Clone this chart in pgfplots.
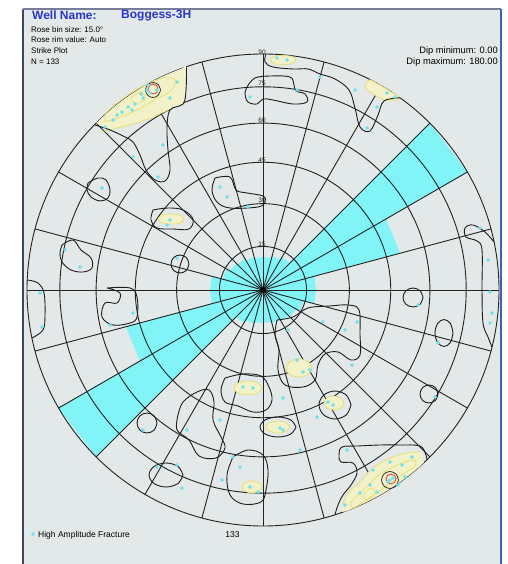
\documentclass[border=0pt]{standalone}
\usepackage{pgfplots}
\pgfplotsset{compat=1.18}
\usepackage{fontspec}
\setmainfont{Liberation Sans}
\definecolor{panel}{RGB}{227,232,232}
\definecolor{rose}{RGB}{128,244,247}
\definecolor{gridc}{RGB}{35,35,35}
\definecolor{cont}{RGB}{30,30,30}
\definecolor{pyel}{RGB}{243,241,200}
\definecolor{yel}{RGB}{232,222,105}
\definecolor{redc}{RGB}{225,70,90}
\definecolor{dotc}{RGB}{105,228,240}
\definecolor{titleblue}{RGB}{38,52,215}
\definecolor{frameL}{RGB}{60,70,105}
\definecolor{frameR}{RGB}{62,98,185}
\definecolor{labc}{RGB}{40,40,40}
\newcommand{\fs}[1]{\fontsize{#1bp}{#1bp}\selectfont}
\begin{document}
\begin{tikzpicture}
\begin{axis}[x=1bp, y=1bp, xmin=-263, xmax=245, ymin=-274, ymax=290,
  hide axis, scale only axis, clip=true,
  cline/.style={draw=cont, line width=0.9bp, smooth, tension=0.6},
  yfill/.style={fill=pyel, draw=yel, line width=0.7bp, smooth, tension=0.6},
  yline/.style={draw=yel, line width=0.7bp, smooth, tension=0.6},
  rline/.style={draw=redc, line width=0.9bp, smooth, tension=0.6}]
% background
\addplot[fill=white, draw=none] coordinates {(-263,-274) (245,-274) (245,290) (-263,290)} -- cycle;
\addplot[fill=panel, draw=none] coordinates {(-240,-274) (237.7,-274) (237.7,281) (-240,281)} -- cycle;
% rose diagram (bin size 15, strike)
\addplot[fill=rose, draw=none, data cs=polar] coordinates {
(0,0) (75,33) (90,33) (0,0) (60,35) (75,35) (0,0) (45,38) (60,38) (0,0) (30,236) (45,236)
(0,0) (15,142) (30,142) (0,0) (0,53) (15,53) (0,0) (-15,53) (0,53) (0,0) (-30,42) (-15,42)
(0,0) (-45,38) (-30,38) (0,0) (-60,36) (-45,36) (0,0) (-75,34) (-60,34) (0,0) (-90,33) (-75,33)
(0,0) (255,33) (270,33) (0,0) (240,35) (255,35) (0,0) (225,38) (240,38) (0,0) (210,236) (225,236)
(0,0) (195,142) (210,142) (0,0) (180,53) (195,53) (0,0) (165,53) (180,53) (0,0) (150,42) (165,42)
(0,0) (135,38) (150,38) (0,0) (120,36) (135,36) (0,0) (105,34) (120,34) (0,0) (90,33) (105,33) (0,0)} -- cycle;
% equal-area polar grid
\pgfplotsinvokeforeach{43.57,86.38,127.73,166.88,203.2,236}{
  \draw[gridc, line width=0.9bp] (axis cs:0,0) circle[radius=#1bp];
}
\pgfplotsinvokeforeach{0,15,...,345}{
  \draw[gridc, line width=0.9bp] (axis cs:0,0) -- ++(#1:236bp);
}
\fill[black] (axis cs:0,0) circle[radius=2.8bp];
% density fills (pale yellow)
\addplot[fill=pyel, draw=none, smooth, tension=0.5] coordinates {(-166.9,166.9) (-151.7,180.8) (-135.4,193.3) (-118.0,204.4) (-99.7,213.9) (-80.7,221.8) (-76.8,223.1) (-77,200) (-79,187) (-95,180) (-112,172) (-130,166) (-150,161) (-166.9,166.9)};
\addplot[fill=pyel, draw=none, smooth, tension=0.5] coordinates {(160.9,-172.6) (151.7,-180.8) (135.4,-193.3) (118.0,-204.4) (99.7,-213.9) (80.7,-221.8) (80,-215) (85,-203) (97,-192) (110,-178) (127,-168) (144,-163) (157,-162) (160.9,-172.6)};
\addplot[yfill] coordinates {(107.1,210.3) (118,204.4) (128.5,197.9) (137.0,192.1) (125,189) (112,195) (102,203) (107.1,210.3)};
\addplot[yfill] coordinates {(7,230) (11,233.5) (20,234.5) (29,233.5) (33,230) (29,226.5) (20,225.5) (11,226.5) (7,230)};
\addplot[yfill] coordinates {(-105,71) (-101,75) (-92,76) (-83,75) (-79,71) (-83,67) (-92,66) (-101,67) (-105,71)};
\addplot[yfill] coordinates {(49,-78) (45.2,-71.6) (36,-69) (26.8,-71.6) (23,-78) (26.8,-84.4) (36,-87) (45.2,-84.4) (49,-78)};
\addplot[yfill] coordinates {(-1,-98) (-5.1,-93.1) (-15,-91) (-24.9,-93.1) (-29,-98) (-24.9,-102.9) (-15,-105) (-5.1,-102.9) (-1,-98)};
\addplot[yfill] coordinates {(81,-113) (78.1,-108.1) (71,-106) (63.9,-108.1) (61,-113) (63.9,-117.9) (71,-120) (78.1,-117.9) (81,-113)};
\addplot[yfill] coordinates {(27,-137) (23.5,-132.8) (15,-131) (6.5,-132.8) (3,-137) (6.5,-141.2) (15,-143) (23.5,-141.2) (27,-137)};
\addplot[yfill] coordinates {(-1,-197) (-3.9,-192.8) (-11,-191) (-18.1,-192.8) (-21,-197) (-18.1,-201.2) (-11,-203) (-3.9,-201.2) (-1,-197)};
% yellow contour lines
\addplot[yline] coordinates {(-163,158) (-150,161) (-130,166) (-112,172) (-95,180)};
\addplot[yline] coordinates {(-158,168) (-140,174) (-122,182) (-105,192) (-92,199) (-88,210) (-100,212) (-118,205) (-138,193) (-156,178) (-158,168)};
\addplot[yline] coordinates {(-128,186) (-118,191) (-122,198) (-132,192) (-128,186)};
\addplot[yline] coordinates {(80,-215) (85,-203) (97,-192) (110,-178) (127,-168) (144,-163) (157,-162)};
\addplot[yline] coordinates {(88,-212) (100,-200) (115,-186) (132,-176) (150,-170) (152,-176) (140,-184) (122,-197) (103,-210) (90,-218) (88,-212)};
\addplot[yline] coordinates {(100,-205) (108,-198) (112,-203) (104,-210) (100,-205)};
% black density contours
\addplot[cline] coordinates {(-168,165) (-153,160) (-138,153) (-130,148) (-123,135) (-117,120) (-108,110) (-98,109) (-93,120) (-95,140) (-96,162) (-93,180) (-80,186) (-77,200) (-76.5,222.5)};
\addplot[cline] coordinates {(163.9,-169.8) (163,-165) (157,-156) (137,-155) (117,-155) (95,-156) (79,-157) (76,-165) (78,-172) (90,-173) (94,-183) (88,-195) (80,-205) (75,-215) (72,-224.6)};
\addplot[cline] coordinates {(-16,203) (-8,212) (8,214) (27,213) (31,205) (33,199) (42,196) (44,188) (30,186) (10,190) (0,191) (-6,186) (-15,188) (-18,196) (-16,203)};
\addplot[cline] coordinates {(3,236) (2,228) (10,223) (30,221) (45,221) (57,216) (72,211) (86,200) (92,182) (97,163) (107,159) (115,175) (121,189) (137,192.2)};
\addplot[cline] coordinates {(-175,107) (-165,112) (-157,110) (-153,100) (-155,92) (-163,89) (-172,93) (-176,100) (-175,107)};
\addplot[cline] coordinates {(-110,80) (-95,82) (-80,80) (-70,71) (-74,61) (-90,61) (-106,62) (-112,70) (-110,80)};
\addplot[cline] coordinates {(-48,112) (-33,113) (-27,100) (-16,97) (0,94) (2,88) (-5,83) (-33,82) (-46,88) (-51,100) (-48,112)};
\addplot[cline] coordinates {(-74,26) (-76.6,32.4) (-83,35) (-89.4,32.4) (-92,26) (-89.4,19.6) (-83,17) (-76.6,19.6) (-74,26)};
\addplot[cline] coordinates {(-201,45) (-190,50) (-182,40) (-172,32) (-171,22) (-180,18) (-192,20) (-201,28) (-203,37) (-201,45)};
\addplot[cline] coordinates {(-235.8,10) (-225,7) (-219,-3) (-218,-25) (-220,-40) (-231,-48)};
\addplot[cline] coordinates {(-156,2) (-133,2) (-126,-7) (-126,-27) (-133,-33) (-150,-35) (-161,-27) (-158,-13) (-146,-13) (-143,-3) (-156,2)};
\addplot[cline] coordinates {(231,48) (222,58) (210,65) (202,62) (203,53) (214,49) (219,40) (219,0) (220,-33) (225,-47) (229,-57)};
\addplot[cline] coordinates {(160,-7.5) (157.1,-0.8) (150,2) (142.9,-0.8) (140,-7.5) (142.9,-14.2) (150,-17) (157.1,-14.2) (160,-7.5)};
\addplot[cline] coordinates {(190,-43) (187.4,-33.5) (181,-29.5) (174.6,-33.5) (172,-43) (174.6,-52.5) (181,-56.5) (187.4,-52.5) (190,-43)};
\addplot[cline] coordinates {(175,-104) (172.4,-97.6) (166,-95) (159.6,-97.6) (157,-104) (159.6,-110.4) (166,-113) (172.4,-110.4) (175,-104)};
\addplot[cline] coordinates {(14,-30) (30,-27) (45,-18) (67,-16) (85,-15) (96,-20) (97,-45) (97,-65) (88,-70) (75,-62) (62,-64) (55,-75) (52,-90) (40,-97) (22,-95) (15,-80) (16,-60) (12,-45) (14,-30)};
\addplot[cline] coordinates {(-38,-88) (-20,-84) (-2,-86) (6,-97) (9,-110) (3,-120) (-10,-122) (-25,-116) (-38,-112) (-42,-100) (-38,-88)};
\addplot[cline] coordinates {(88,-115) (83.3,-105.1) (72,-101) (60.7,-105.1) (56,-115) (60.7,-124.9) (72,-129) (83.3,-124.9) (88,-115)};
\addplot[cline] coordinates {(33,-137) (27.7,-129.9) (15,-127) (2.3,-129.9) (-3,-137) (2.3,-144.1) (15,-147) (27.7,-144.1) (33,-137)};
\addplot[cline] coordinates {(-106,-133) (-108.9,-125.9) (-116,-123) (-123.1,-125.9) (-126,-133) (-123.1,-140.1) (-116,-143) (-108.9,-140.1) (-106,-133)};
\addplot[cline] coordinates {(-80,-185) (-85,-176.5) (-97,-173) (-109,-176.5) (-114,-185) (-109,-193.5) (-97,-197) (-85,-193.5) (-80,-185)};
\addplot[cline] coordinates {(-30,-167) (-15,-160) (0,-165) (5,-180) (3,-200) (-2,-212) (-20,-214) (-33,-205) (-36,-185) (-30,-167)};
\addplot[cline] coordinates {(-85,-125) (-80,-112) (-66,-102) (-54,-100) (-49,-112) (-50,-130) (-42,-147) (-38,-158) (-47,-168) (-64,-166) (-74,-150) (-86,-140) (-85,-125)};
% high-density rings
\addplot[cline, line width=0.7bp] coordinates {(-102.5,200) (-104.7,205.3) (-110,207.5) (-115.3,205.3) (-117.5,200) (-115.3,194.7) (-110,192.5) (-104.7,194.7) (-102.5,200)};
\addplot[rline] coordinates {(-105,201) (-106.5,204.5) (-110,206) (-113.5,204.5) (-115,201) (-113.5,197.5) (-110,196) (-106.5,197.5) (-105,201)};
\addplot[cline, line width=0.7bp] coordinates {(135.5,-190) (133,-184) (127,-181.5) (121,-184) (118.5,-190) (121,-196) (127,-198.5) (133,-196) (135.5,-190)};
\addplot[rline] coordinates {(133,-189) (131.5,-185.5) (128,-184) (124.5,-185.5) (123,-189) (124.5,-192.5) (128,-194) (131.5,-192.5) (133,-189)};
% poles: high amplitude fractures
\addplot[only marks, mark=*, mark size=1.7bp, color=dotc, mark options={draw=none, fill=dotc}] coordinates {
(-116,200) (-113,197) (-135,183) (-141,178) (-131,180) (-158,163) (-86,208) (-146,175) (-128,186) (-120,192) (-115,205) (-106,200) (-93,192) (-150,170) (-122,196)
(-100,145) (-105,113) (-130,133) (-161,102) (-198,40) (-183,23) (-223,-3) (-221,-37) (-153,-35) (-130,-23) (-86,32) (-43,103) (-36,93) (-15,83) (-93,70) (-96,65)
(-13,193) (14,232) (24,230) (34,200) (57,213) (92,200) (104,162) (114,183) (124,197) (132,193)
(217,62) (225,30) (227,-2) (229,-23) (227,-33) (155,-15) (175,-53) (172,-107)
(60,-32) (82,-40) (94,-32) (25,-40) (89,-75) (34,-70) (40,-82) (47,-80) (20,-108) (54,-127) (65,-112) (70,-115) (37,-160) (17,-138) (20,-140)
(-20,-97) (-10,-98) (-43,-130) (-76,-140) (-120,-140) (-106,-177) (-86,-175) (-23,-177) (-30,-167) (-13,-197) (-5,-202) (-81,-198) (-41,-190)
(84,-160) (127,-172) (139,-175) (149,-167) (110,-180) (107,-195) (97,-203) (114,-202) (82,-215) (127,-190) (130,-188) (125,-192) (142,-187) (135,-195)};
% legend marker
\addplot[only marks, mark=*, mark size=1.7bp, color=dotc, mark options={draw=none, fill=dotc}] coordinates {(-230,-244)};
% dip ring labels
\node[font=\fs{6.5}, text=labc, inner sep=0] at (axis cs:-1,238) {90};
\node[font=\fs{6.5}, text=labc, inner sep=0] at (axis cs:-1,207) {75};
\node[font=\fs{6.5}, text=labc, inner sep=0] at (axis cs:-1,170) {60};
\node[font=\fs{6.5}, text=labc, inner sep=0] at (axis cs:-1,130) {45};
\node[font=\fs{6.5}, text=labc, inner sep=0] at (axis cs:-1,90) {30};
\node[font=\fs{6.5}, text=labc, inner sep=0] at (axis cs:-1,46) {15};
% frame
\draw[frameL, line width=2.6bp] (axis cs:-240,-280) -- (axis cs:-240,281);
\draw[frameL!70!white, line width=1.6bp] (axis cs:-240,281) -- (axis cs:237.7,281);
\draw[frameR, line width=2.4bp] (axis cs:237.7,281) -- (axis cs:237.7,-280);
% header texts
\node[anchor=west, inner sep=0, font=\fs{12}\bfseries, text=titleblue] at (axis cs:-231,274.5) {Well Name:};
\node[anchor=west, inner sep=0, font=\fs{12}\bfseries, text=titleblue] at (axis cs:-142,274.5) {Boggess-3H};
\node[anchor=west, inner sep=0, font=\fs{8}, text=black] at (axis cs:-232,260.7) {Rose bin size: 15.0°};
\node[anchor=west, inner sep=0, font=\fs{8}, text=black] at (axis cs:-232,250) {Rose rim value: Auto};
\node[anchor=west, inner sep=0, font=\fs{8}, text=black] at (axis cs:-232,239.3) {Strike Plot};
\node[anchor=west, inner sep=0, font=\fs{8}, text=black] at (axis cs:-232,228.3) {N = 133};
\node[anchor=east, inner sep=0, font=\fs{9.3}, text=black] at (axis cs:235,238.5) {Dip minimum: 0.00};
\node[anchor=east, inner sep=0, font=\fs{9.3}, text=black] at (axis cs:235,228) {Dip maximum: 180.00};
% legend
\node[anchor=west, inner sep=0, font=\fs{8.5}, text=black] at (axis cs:-225,-245) {High Amplitude Fracture};
\node[inner sep=0, font=\fs{8.5}, text=black] at (axis cs:-30.5,-245) {133};
\end{axis}
\end{tikzpicture}
\end{document}
